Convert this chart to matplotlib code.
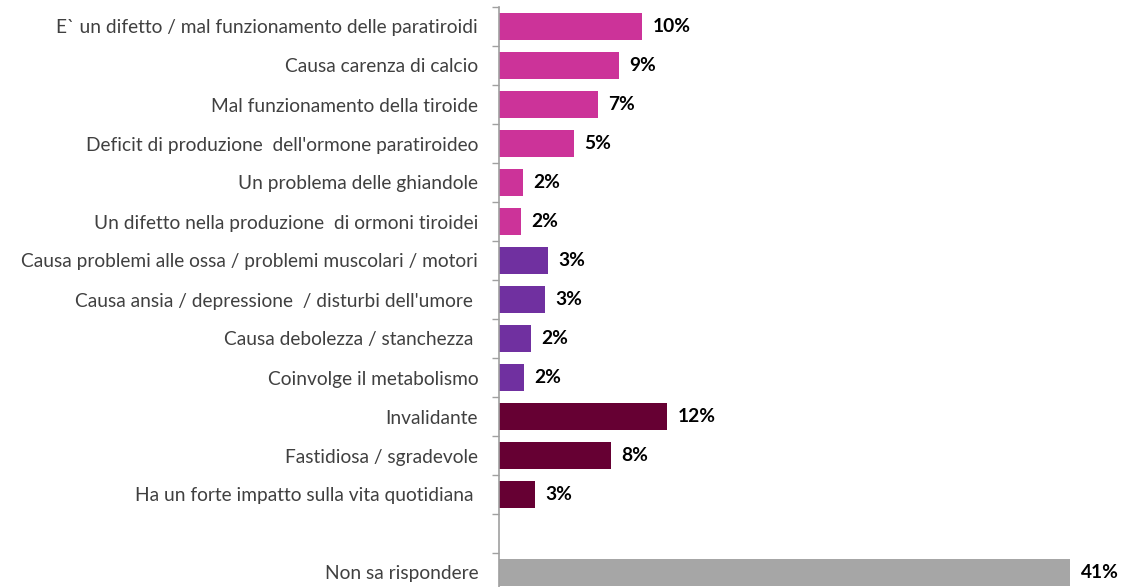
import matplotlib
matplotlib.use("Agg")
import matplotlib.pyplot as plt

categories = [
    "E` un difetto / mal funzionamento delle paratiroidi",
    "Causa carenza di calcio",
    "Mal funzionamento della tiroide",
    "Deficit di produzione  dell'ormone paratiroideo",
    "Un problema delle ghiandole",
    "Un difetto nella produzione  di ormoni tiroidei",
    "Causa problemi alle ossa / problemi muscolari / motori",
    "Causa ansia / depressione  / disturbi dell'umore ",
    "Causa debolezza / stanchezza ",
    "Coinvolge il metabolismo",
    "Invalidante",
    "Fastidiosa / sgradevole",
    "Ha un forte impatto sulla vita quotidiana ",
    "",
    "Non sa rispondere",
]
values = [10.27, 8.6, 7.1, 5.4, 1.72, 1.56, 3.52, 3.3, 2.3, 1.8, 12.06, 8.04, 2.58, None, 41.0]
value_labels = ["10%", "9%", "7%", "5%", "2%", "2%", "3%", "3%", "2%", "2%", "12%", "8%", "3%", "", "41%"]
groups = ["pink"] * 6 + ["purple"] * 4 + ["maroon"] * 3 + [None, "gray"]
palette = {"pink": "#CC3399", "purple": "#7030A0", "maroon": "#660033", "gray": "#A6A6A6"}

W, H = 1142, 587
fig = plt.figure(figsize=(W / 100, H / 100), dpi=100)
ax_left_px, ax_top_px, ax_bottom_px = 499, 7, 592
ax = fig.add_axes([ax_left_px / W, (H - ax_bottom_px) / H, (W - ax_left_px) / W,
                   (ax_bottom_px - ax_top_px) / H])

n = len(categories)
ys = list(range(n))
for y, v, g in zip(ys, values, groups):
    if v is None:
        continue
    ax.barh(y, v, height=0.7, color=palette[g], edgecolor="none")

for y, v, lab in zip(ys, values, value_labels):
    if v is None:
        continue
    ax.annotate(lab, (v, y), xytext=(7.5, 0), textcoords="offset points",
                ha="left", va="center", fontsize=13.8, fontweight="bold",
                family="Lato", color="#000000")

ax.set_xlim(0, (W - ax_left_px) / 13.93)
ax.set_ylim(n - 0.5, -0.5)
ax.set_yticks(ys)
ax.set_yticklabels(categories, family="Lato", fontsize=13.75, color="#404040")
ax.tick_params(axis="y", which="major", length=0, pad=15)
ax.set_yticks([i - 0.5 for i in range(n + 1)], minor=True)
ax.tick_params(axis="y", which="minor", length=5, width=1, color="#A0A0A0", direction="out")
ax.set_xticks([])
for s in ["top", "right", "bottom"]:
    ax.spines[s].set_visible(False)
ax.spines["left"].set_color("#A0A0A0")
ax.spines["left"].set_linewidth(1.2)
ax.patch.set_visible(False)

fig.savefig("out.png", dpi=100)
